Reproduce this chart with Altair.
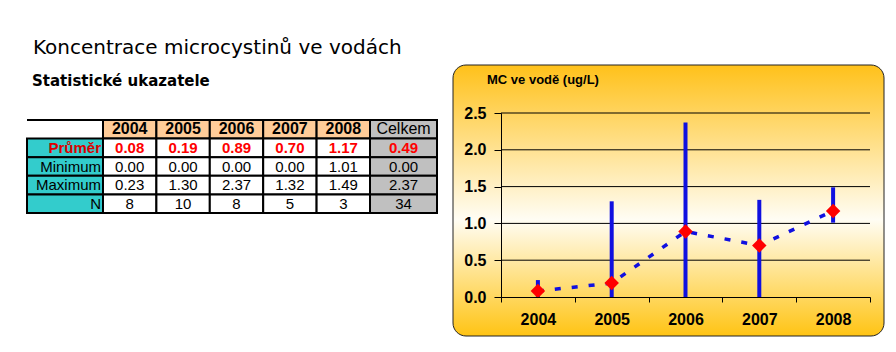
import altair as alt
import pandas as pd

# ---------------- data ----------------
years = ["2004", "2005", "2006", "2007", "2008"]
year_num = [2004, 2005, 2006, 2007, 2008]
mean_vals = [0.08, 0.19, 0.89, 0.70, 1.17]
min_vals = [0.00, 0.00, 0.00, 0.00, 1.01]
max_vals = [0.23, 1.30, 2.37, 1.32, 1.49]
n_vals = [8, 10, 8, 5, 3]
total_label = "Celkem"
total_mean = 0.49
total_min = 0.00
total_max = 2.37
total_n = 34
row_names = ["Průměr", "Minimum", "Maximum", "N"]
y_ticks = [0.0, 0.5, 1.0, 1.5, 2.0, 2.5]
x_bounds = [2003.5, 2004.5, 2005.5, 2006.5, 2007.5, 2008.5]
title_text = "Koncentrace microcystinů ve vodách"
subtitle_text = "Statistické ukazatele"
chart_title = "MC ve vodě (ug/L)"

AR = "Liberation Sans"
DJ = "DejaVu Sans"
RED = "#ff0000"
BLUE = "#1010e0"

rows_all = ["hdr"] + row_names


def fmt(v):
    return f"{v:.2f}"


year_cells = []
for i, yr in enumerate(years):
    year_cells += [
        {"col": yr, "row": "hdr", "txt": yr},
        {"col": yr, "row": "Průměr", "txt": fmt(mean_vals[i])},
        {"col": yr, "row": "Minimum", "txt": fmt(min_vals[i])},
        {"col": yr, "row": "Maximum", "txt": fmt(max_vals[i])},
        {"col": yr, "row": "N", "txt": str(n_vals[i])},
    ]
year_df = pd.DataFrame(year_cells)

total_df = pd.DataFrame([
    {"col": total_label, "row": "hdr", "txt": total_label},
    {"col": total_label, "row": "Průměr", "txt": fmt(total_mean)},
    {"col": total_label, "row": "Minimum", "txt": fmt(total_min)},
    {"col": total_label, "row": "Maximum", "txt": fmt(total_max)},
    {"col": total_label, "row": "N", "txt": str(total_n)},
])

label_df = pd.DataFrame({"col": ["label"] * len(row_names), "row": row_names, "txt": row_names})

series_df = pd.DataFrame({
    "year": year_num, "mean": mean_vals, "min": min_vals, "max": max_vals
})
grid_df = pd.DataFrame({"v": y_ticks[1:]})
one = pd.DataFrame({"a": [0]})

# ---------------- scales ----------------
ROWS = alt.Scale(type="band", domain=rows_all, range=[120, 213], paddingInner=0, paddingOuter=0)
LCOL = alt.Scale(type="band", domain=["label"], range=[27, 103], paddingInner=0, paddingOuter=0)
YCOL = alt.Scale(type="band", domain=years, range=[103, 370], paddingInner=0, paddingOuter=0)
TCOL = alt.Scale(type="band", domain=[total_label], range=[370, 437], paddingInner=0, paddingOuter=0)
XS = alt.Scale(type="linear", domain=[2003.5, 2008.5], range=[501, 870], nice=False, zero=False)
YS = alt.Scale(type="linear", domain=[0, 2.5], range=[297, 113], nice=False, zero=True)


def ty():
    return alt.Y("row:N", scale=ROWS, axis=None)


layers = []

# panel background
grad = alt.Gradient(
    gradient="linear",
    stops=[
        alt.GradientStop(color="#ffc11a", offset=0),
        alt.GradientStop(color="#fffdf4", offset=0.57),
        alt.GradientStop(color="#ffc414", offset=1),
    ],
    x1=0, x2=0, y1=0, y2=1,
)
layers.append(
    alt.Chart(one).mark_rect(fill=grad, cornerRadius=13, stroke="#222222", strokeWidth=1).encode(
        x=alt.value(453), x2=alt.value(884), y=alt.value(65), y2=alt.value(336)
    )
)

# headings
layers.append(alt.Chart(one).mark_text(text=title_text, font=DJ, fontSize=20, align="left",
                                       baseline="alphabetic", color="black").encode(
    x=alt.value(33), y=alt.value(54)))
layers.append(alt.Chart(one).mark_text(text=subtitle_text, font=DJ, fontSize=15, fontWeight="bold",
                                       align="left", baseline="alphabetic", color="black").encode(
    x=alt.value(32), y=alt.value(86)))
layers.append(alt.Chart(one).mark_text(text=chart_title, font=AR, fontSize=13, fontWeight="bold",
                                       align="left", baseline="alphabetic", color="black").encode(
    x=alt.value(487), y=alt.value(84)))

# ---------------- table ----------------
layers.append(alt.Chart(label_df).mark_rect(fill="#33cccc", stroke="black", strokeWidth=2).encode(
    x=alt.X("col:N", scale=LCOL, axis=None), y=ty()))
layers.append(alt.Chart(year_df).mark_rect(stroke="black", strokeWidth=2).encode(
    x=alt.X("col:N", scale=YCOL, axis=None), y=ty(),
    fill=alt.Fill("row:N", scale=alt.Scale(domain=rows_all,
                                            range=["#ffcc99", "white", "white", "white", "white"]),
                  legend=None)))
layers.append(alt.Chart(total_df).mark_rect(fill="#c0c0c0", stroke="black", strokeWidth=2).encode(
    x=alt.X("col:N", scale=TCOL, axis=None), y=ty()))
layers.append(alt.Chart(one).mark_rule(color="black", strokeWidth=2).encode(
    x=alt.value(27), x2=alt.value(103), y=alt.value(120)))

# label column texts
layers.append(alt.Chart(label_df).transform_filter(alt.datum.row == "Průměr").mark_text(
    font=AR, fontSize=15, fontWeight="bold", color="#dd0000", align="right", baseline="middle", dx=36
).encode(x=alt.X("col:N", scale=LCOL, axis=None), y=ty(), text="txt:N"))
layers.append(alt.Chart(label_df).transform_filter(alt.datum.row != "Průměr").mark_text(
    font=AR, fontSize=15, color="black", align="right", baseline="middle", dx=36
).encode(x=alt.X("col:N", scale=LCOL, axis=None), y=ty(), text="txt:N"))

# value texts
for df, sc, hdr_w in [(year_df, YCOL, "bold"), (total_df, TCOL, "normal")]:
    layers.append(alt.Chart(df).transform_filter(alt.datum.row == "hdr").mark_text(
        font=AR, fontSize=16, fontWeight=hdr_w, color="black", baseline="middle"
    ).encode(x=alt.X("col:N", scale=sc, axis=None), y=ty(), text="txt:N"))
    layers.append(alt.Chart(df).transform_filter(alt.datum.row == "Průměr").mark_text(
        font=AR, fontSize=15, fontWeight="bold", color=RED, baseline="middle"
    ).encode(x=alt.X("col:N", scale=sc, axis=None), y=ty(), text="txt:N"))
    layers.append(alt.Chart(df).transform_filter(
        (alt.datum.row != "hdr") & (alt.datum.row != "Průměr")).mark_text(
        font=AR, fontSize=15, color="black", baseline="middle"
    ).encode(x=alt.X("col:N", scale=sc, axis=None), y=ty(), text="txt:N"))

# ---------------- chart ----------------
layers.append(alt.Chart(grid_df).mark_rule(color="black", strokeWidth=1).encode(
    y=alt.Y("v:Q", scale=YS, axis=None),
    x=alt.XDatum(datum=2003.5, type="quantitative", scale=XS, axis=None),
    x2=alt.X2Datum(datum=2008.5),
))

xaxis = alt.Axis(
    orient="bottom", offset=-55, values=sorted(x_bounds + year_num), title=None,
    labelExpr="datum.value % 1 == 0 ? format(datum.value, 'd') : ''",
    tickOpacity={"condition": {"test": "datum.value % 1 == 0", "value": 0}, "value": 1},
    tickSize=5, labelPadding=9, labelFont=AR, labelFontSize=16, labelFontWeight="bold",
    labelColor="black", domainColor="black", tickColor="black", domainWidth=1, tickWidth=1,
    grid=False, labelOverlap=False, labelFlush=False, zindex=1,
)
yaxis = alt.Axis(
    orient="left", offset=-501, values=y_ticks, format=".1f", title=None,
    tickSize=7, labelPadding=8, labelFont=AR, labelFontSize=16, labelFontWeight="bold",
    labelColor="black", domainColor="black", tickColor="black", domainWidth=1, tickWidth=1,
    grid=False, labelOverlap=False, labelFlush=False, zindex=1,
)

layers.append(alt.Chart(series_df).mark_rule(color=BLUE, strokeWidth=4).encode(
    x=alt.X("year:Q", scale=XS, axis=xaxis),
    y=alt.Y("min:Q", scale=YS, axis=yaxis),
    y2="max:Q",
))
layers.append(alt.Chart(series_df).mark_line(color=BLUE, strokeWidth=3.5, strokeDash=[6, 11]).encode(
    x=alt.X("year:Q", scale=XS, axis=None),
    y=alt.Y("mean:Q", scale=YS, axis=None),
))
layers.append(alt.Chart(series_df).mark_point(shape="diamond", filled=True, size=210, color=RED,
                                               opacity=1).encode(
    x=alt.X("year:Q", scale=XS, axis=None),
    y=alt.Y("mean:Q", scale=YS, axis=None),
))

chart = alt.layer(*layers).resolve_scale(
    x="independent", y="independent", fill="independent"
).properties(
    width=896, height=352, padding=0, autosize=alt.AutoSizeParams(type="none")
).configure_view(stroke=None)

chart.save("out.html", embed_options={"renderer": "svg", "actions": False})
